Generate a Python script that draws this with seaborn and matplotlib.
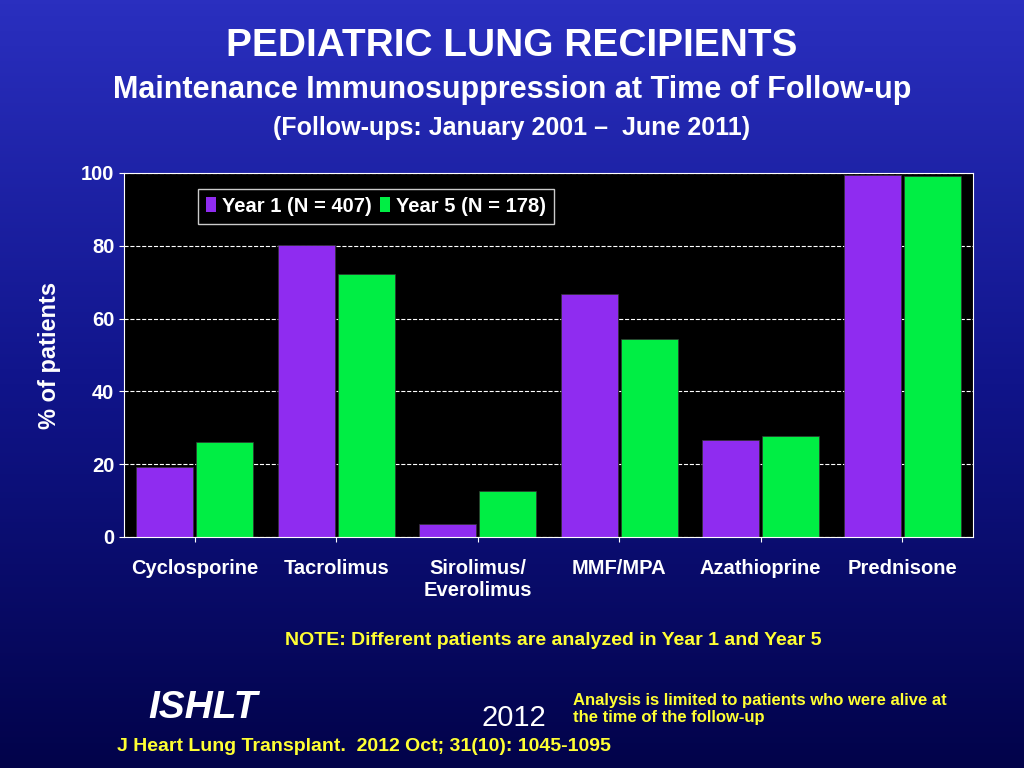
import numpy as np
import pandas as pd
import seaborn as sns
import matplotlib.pyplot as plt
from matplotlib.patches import Patch
from matplotlib.colors import LinearSegmentedColormap

plt.rcParams["font.family"] = "Liberation Sans"

drugs = ["Cyclosporine", "Tacrolimus", "Sirolimus/\nEverolimus", "MMF/MPA", "Azathioprine", "Prednisone"]
year1 = [19.2, 80.2, 3.6, 66.8, 26.6, 99.5]
year5 = [26.1, 72.3, 12.6, 54.4, 27.7, 99.2]
series = ["Year 1 (N = 407)", "Year 5 (N = 178)"]
colors = ["#8f2cf0", "#00ee44"]

df = pd.DataFrame({"drug": drugs * 2, "pct": year1 + year5,
                   "series": [series[0]] * 6 + [series[1]] * 6})

fig = plt.figure(figsize=(10.24, 7.68), dpi=100)
# blue gradient background
bg = fig.add_axes([0, 0, 1, 1], zorder=-10)
grad = np.linspace(0, 1, 256).reshape(-1, 1)
cmap = LinearSegmentedColormap.from_list("bg", ["#2a2fbf", "#10148a", "#02034a"])
bg.imshow(grad, aspect="auto", cmap=cmap, extent=[0, 1, 0, 1])
bg.axis("off")

ax = fig.add_axes([124 / 1024, 1 - 537 / 768, (973 - 124) / 1024, (537 - 173) / 768])
ax.set_facecolor("black")
sns.barplot(data=df, x="drug", y="pct", hue="series", palette=colors, saturation=1,
            width=0.85, gap=0.05, edgecolor="#333333", linewidth=0.5, ax=ax, legend=False)
ax.set_ylim(0, 100)
ax.set_yticks(range(0, 101, 20))
ax.yaxis.grid(True, color="white", linestyle="--", linewidth=0.8)
ax.set_axisbelow(True)
ax.set_xlabel("")
ax.set_ylabel("% of patients", color="white", fontsize=17, fontweight="bold", labelpad=14)
ax.tick_params(colors="white", labelsize=14.5)
ax.tick_params(axis="x", pad=12)
for lbl in ax.get_xticklabels() + ax.get_yticklabels():
    lbl.set_fontweight("bold")
for s in ax.spines.values():
    s.set_edgecolor("white")

handles = [Patch(facecolor=c) for c in colors]
leg = ax.legend(handles, series, loc="upper left", bbox_to_anchor=(0.075, 0.985), ncol=2,
                frameon=True, fancybox=False, facecolor="black", edgecolor="white",
                handlelength=0.5, handletextpad=0.3, columnspacing=0.4,
                prop={"size": 14.5, "weight": "bold"})
for t in leg.get_texts():
    t.set_color("white")

fig.text(0.5, 0.94, "PEDIATRIC LUNG RECIPIENTS", ha="center", va="center", color="white", fontsize=28, fontweight="bold")
fig.text(0.5, 0.883, "Maintenance Immunosuppression at Time of Follow-up", ha="center", va="center", color="white", fontsize=22, fontweight="bold")
fig.text(0.5, 0.833, "(Follow-ups: January 2001 \u2013  June 2011)", ha="center", va="center", color="white", fontsize=18, fontweight="bold")
fig.text(0.54, 0.166, "NOTE: Different patients are analyzed in Year 1 and Year 5", ha="center", va="center", color="#ffff33", fontsize=14, fontweight="bold")
fig.text(0.145, 0.065, "ISHLT", color="white", fontsize=28, fontweight="bold", style="italic")
fig.text(0.47, 0.055, "2012", color="white", fontsize=21)
fig.text(0.56, 0.06, "Analysis is limited to patients who were alive at\nthe time of the follow-up", color="#ffff33", fontsize=12, fontweight="bold")
fig.text(0.114, 0.022, "J Heart Lung Transplant.  2012 Oct; 31(10): 1045-1095", color="#ffff33", fontsize=14, fontweight="bold")

fig.savefig("out.png", dpi=100)
